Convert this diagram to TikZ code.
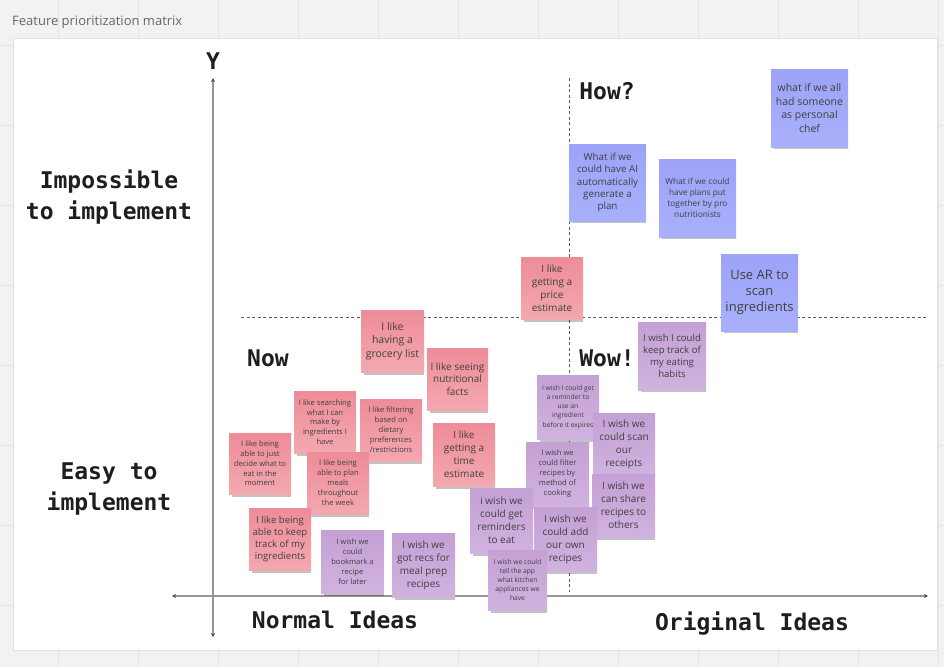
\documentclass[tikz,border=0pt]{standalone}
\usepackage{fontspec}
\setmainfont{Open Sans}
\newfontfamily\labfont{DejaVu Sans Mono}
\usetikzlibrary{arrows.meta,shadows}
\definecolor{bgc}{HTML}{F2F2F2}
\definecolor{gridc}{HTML}{E4E4E4}
\definecolor{axisc}{HTML}{959595}
\definecolor{dashc}{HTML}{55557A}
\definecolor{pinkT}{HTML}{EE8C99}
\definecolor{pinkB}{HTML}{F3A8B0}
\definecolor{blueT}{HTML}{9CA3F8}
\definecolor{blueB}{HTML}{A9B0FA}
\definecolor{purpT}{HTML}{C5A0D5}
\definecolor{purpB}{HTML}{D0B2DF}
\definecolor{notetext}{HTML}{404040}
\definecolor{labc}{HTML}{1E1E1E}
\definecolor{tipc}{HTML}{4A4A4A}
\tikzset{
  note/.style={rectangle, inner sep=1pt, align=center, text=notetext,
    drop shadow={shadow xshift=1.5pt, shadow yshift=-4pt, shadow scale=0.96, opacity=.24, fill=black}},
  pinknote/.style={note, top color=pinkT, bottom color=pinkB},
  bluenote/.style={note, top color=blueT, bottom color=blueB},
  purpnote/.style={note, top color=purpT, bottom color=purpB},
  biglab/.style={font=\labfont\bfseries\fontsize{23}{31}\selectfont, text=labc, align=center, inner sep=0pt},
  axisline/.style={draw=axisc, line width=1.2pt, {Stealth[length=4pt,width=4pt,color=tipc]}-{Stealth[length=4pt,width=4pt,color=tipc]}},
  dashline/.style={draw=dashc, line width=0.8pt, dash pattern=on 3pt off 2.5pt},
}
\newcommand\fs[2]{\fontsize{#1}{#2}\selectfont}
\begin{document}
\begin{tikzpicture}[x=1pt,y=-1pt]
\useasboundingbox (0,0) rectangle (944,667);
% background with grid
\fill[bgc] (0,0) rectangle (944,667);
\foreach \gx in {58,138,...,938} \draw[gridc, line width=1pt] (\gx,0) -- (\gx,667);
\foreach \gy in {45,125,...,605} \draw[gridc, line width=1pt] (0,\gy) -- (944,\gy);
% title
\node[anchor=west, text=black!60, font=\fs{13}{15}, inner sep=0pt] (title) at (12,22) {Feature prioritization matrix};
% board
\draw[fill=white, draw=black!12] (13,38) rectangle (937,650);
% axes
\coordinate (yt) at (213,78);
\coordinate (yb) at (213,637);
\coordinate (xl) at (172,596);
\coordinate (xr) at (928,596);
\draw[axisline] (yb) -- (yt);
\draw[axisline] (xl) -- (xr);
% dashed quadrant lines
\coordinate (hl) at (241,317);
\coordinate (hr) at (928,317);
\coordinate (vt) at (569,78);
\coordinate (vb) at (569,592);
\draw[dashline] (hl) -- (hr);
\draw[dashline] (vt) -- (vb);
% labels
\node[biglab] (ylab) at (213,61) {Y};
\node[biglab] (imp) at (109,197) {Impossible\\to implement};
\node[biglab] (easy) at (109,489) {Easy to\\implement};
\node[biglab] (normal) at (335,620) {Normal Ideas};
\node[biglab] (orig) at (752,624) {Original Ideas};
\node[biglab] (how) at (607,91) {How?};
\node[biglab] (now) at (268,358) {Now};
\node[biglab] (wow) at (607,358) {Wow!};
% blue notes
\node[bluenote, minimum width=77pt, minimum height=78pt, font=\fs{10.5}{13.5}] (n1) at (809.5,108) {what if we all\\had someone\\as personal\\chef};
\node[bluenote, minimum width=77pt, minimum height=77pt, font=\fs{9.8}{12.3}] (n2) at (607.5,182.5) {What if we\\could have AI\\automatically\\generate a\\plan};
\node[bluenote, minimum width=77pt, minimum height=78pt, font=\fs{8.3}{11}] (n3) at (697.5,198) {What if we could\\have plans put\\together by pro\\nutritionists};
\node[bluenote, minimum width=77pt, minimum height=77pt, font=\fs{13}{16.3}] (n4) at (759.5,292.5) {Use AR to\\scan\\ingredients};
% pink notes
\node[pinknote, minimum width=62pt, minimum height=62pt, font=\fs{10}{13}] (n5) at (552,288) {I like\\getting a\\price\\estimate};
\node[pinknote, minimum width=63pt, minimum height=62pt, font=\fs{10.5}{13.7}] (n6) at (392.5,341) {I like\\having a\\grocery list};
\node[pinknote, minimum width=61pt, minimum height=62pt, font=\fs{10}{12.5}] (n7) at (457.5,379) {I like seeing\\nutritional\\facts};
\node[pinknote, minimum width=62pt, minimum height=62pt, font=\fs{7.6}{9.7}] (n8) at (325,422) {I like searching\\what I can\\make by\\ingredients I\\have};
\node[pinknote, minimum width=62pt, minimum height=62pt, font=\fs{7.6}{10}] (n9) at (391,430) {I like filtering\\based on\\dietary\\preferences\\/restrictions};
\node[pinknote, minimum width=62pt, minimum height=63pt, font=\fs{10}{13}] (n10) at (464,454.5) {I like\\getting a\\time\\estimate};
\node[pinknote, minimum width=62pt, minimum height=61pt, font=\fs{7.6}{9.7}] (n11) at (260,463.5) {I like being\\able to just\\decide what to\\eat in the\\moment};
\node[pinknote, minimum width=62pt, minimum height=62pt, font=\fs{7.6}{10}] (n12) at (338,483) {I like being\\able to plan\\meals\\throughout\\the week};
\node[pinknote, minimum width=62pt, minimum height=62pt, font=\fs{9.6}{12}] (n13) at (280,539) {I like being\\able to keep\\track of my\\ingredients};
% purple notes
\node[purpnote, minimum width=63pt, minimum height=63pt, font=\fs{7.6}{10}] (n14) at (352.5,561.5) {I wish we\\could\\bookmark a\\recipe\\for later};
\node[purpnote, minimum width=63pt, minimum height=64pt, font=\fs{10}{13}] (n15) at (423.5,565) {I wish we\\got recs for\\meal prep\\recipes};
\node[purpnote, minimum width=68pt, minimum height=68pt, font=\fs{9.6}{12.2}] (n16) at (672,356) {I wish I could\\keep track of\\my eating\\habits};
\node[purpnote, minimum width=62pt, minimum height=64pt, font=\fs{6.7}{9.2}] (n17) at (568,407) {I wish I could get\\a reminder to\\use an\\ingredient\\before it expires};
\node[purpnote, minimum width=62pt, minimum height=62pt, font=\fs{10}{13}] (n18) at (624,444) {I wish we\\could scan\\our\\receipts};
\node[purpnote, minimum width=63pt, minimum height=64pt, font=\fs{7.6}{10}] (n19) at (557.5,474) {I wish we\\could filter\\recipes by\\method of\\cooking};
\node[purpnote, minimum width=63pt, minimum height=63pt, font=\fs{10}{13}] (n20) at (623.5,505.5) {I wish we\\can share\\recipes to\\others};
\node[purpnote, minimum width=63pt, minimum height=65pt, font=\fs{10}{13}] (n21) at (501.5,520.5) {i wish we\\could get\\reminders\\to eat};
\node[purpnote, minimum width=63pt, minimum height=64pt, font=\fs{10}{13}] (n22) at (565.5,539) {I wish we\\could add\\our own\\recipes};
\node[purpnote, minimum width=59pt, minimum height=60pt, font=\fs{6.7}{9}] (n23) at (517.5,580) {I wish we could\\tell the app\\what kitchen\\appliances we\\have};
\end{tikzpicture}
\end{document}
